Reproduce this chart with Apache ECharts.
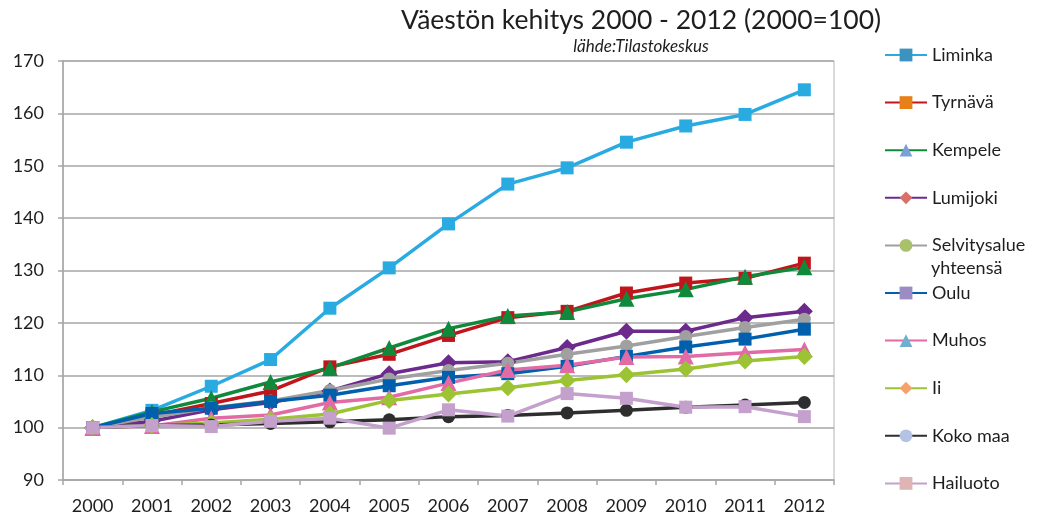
<!DOCTYPE html>
<html>
<head>
<meta charset="utf-8">
<script src="https://cdn.jsdelivr.net/npm/echarts@6/dist/echarts.min.js"></script>
<style>
  html, body { margin: 0; padding: 0; background: #fff; }
  #chart { width: 1039px; height: 523px; }
</style>
</head>
<body>
<div id="chart"></div>
<script>
const years = ['2000', '2001', '2002', '2003', '2004', '2005', '2006', '2007', '2008', '2009', '2010', '2011', '2012']

const liminka = [100, 103.3, 107.9, 113.0, 122.8, 130.5, 138.9, 146.5, 149.6, 154.5, 157.6, 159.8, 164.5]
const tyrnava = [100, 102.3, 104.6, 107.0, 111.6, 114.0, 117.6, 121.0, 122.2, 125.7, 127.6, 128.5, 131.4]
const kempele = [100, 103.0, 105.6, 108.7, 111.4, 115.2, 118.9, 121.3, 122.1, 124.6, 126.4, 128.8, 130.6]
const lumijoki = [100, 101.2, 103.4, 104.8, 107.0, 110.3, 112.4, 112.6, 115.3, 118.4, 118.4, 121.0, 122.2]
const selvitysalue = [100, 102.0, 103.8, 105.1, 107.1, 109.3, 110.9, 112.3, 114.0, 115.6, 117.4, 119.1, 120.7]
const oulu = [100, 102.7, 103.7, 105.0, 106.2, 108.0, 109.6, 110.3, 111.7, 113.6, 115.4, 116.9, 118.8]
const muhos = [100, 100.3, 101.8, 102.4, 104.8, 105.8, 108.5, 111.0, 111.9, 113.5, 113.6, 114.3, 114.9]
const ii = [100, 100.4, 100.9, 101.6, 102.6, 105.2, 106.4, 107.6, 109.0, 110.1, 111.2, 112.7, 113.6]
const kokoMaa = [100, 100.4, 100.5, 100.8, 101.1, 101.5, 102.1, 102.3, 102.8, 103.3, 103.9, 104.3, 104.8]
const hailuoto = [100, 100.4, 100.2, 101.2, 101.8, 99.9, 103.4, 102.2, 106.5, 105.6, 103.9, 104.0, 102.1]

const yTicks = { min: 90, max: 170, step: 10 }

const font = 'Lato, "Open Sans", sans-serif'
const textColor = '#1e1e1e'

// plot style + the (different) marker colours Excel shows in the legend
const seriesDefs = [
  { name: 'Liminka', data: liminka, color: '#29abe2', symbol: 'rect', legendColor: '#3a93c0' },
  { name: 'Tyrnävä', data: tyrnava, color: '#c0161b', symbol: 'rect', legendColor: '#e8801a' },
  { name: 'Kempele', data: kempele, color: '#0f8a3c', symbol: 'triangle', legendColor: '#7b9fd8' },
  { name: 'Lumijoki', data: lumijoki, color: '#6b2a8c', symbol: 'diamond', legendColor: '#d9706a' },
  { name: 'Selvitysalue yhteensä', data: selvitysalue, color: '#a0a0a0', symbol: 'circle', legendColor: '#a9c16b' },
  { name: 'Oulu', data: oulu, color: '#0060ae', symbol: 'rect', legendColor: '#9b8dc4' },
  { name: 'Muhos', data: muhos, color: '#e26aa5', symbol: 'triangle', legendColor: '#6fb0d0' },
  { name: 'Ii', data: ii, color: '#9cc334', symbol: 'diamond', legendColor: '#f5a36b' },
  { name: 'Koko maa', data: kokoMaa, color: '#2e2e2e', symbol: 'circle', legendColor: '#b4c3e3' },
  { name: 'Hailuoto', data: hailuoto, color: '#c4a0cc', symbol: 'rect', legendColor: '#e0b4b4' }
]

const sizeFor = { rect: 13, circle: 13, triangle: 16, diamond: 17 }

const chart = echarts.init(document.getElementById('chart'))

chart.setOption({
  animation: false,
  textStyle: { fontFamily: font },
  title: {
    text: 'Väestön kehitys 2000 - 2012 (2000=100)',
    subtext: 'lähde:Tilastokeskus',
    left: 636,
    top: 2,
    textAlign: 'center',
    itemGap: 4,
    textStyle: { fontSize: 26.5, fontWeight: 'normal', color: textColor, fontFamily: font },
    subtextStyle: { fontSize: 17, fontStyle: 'italic', color: textColor, fontFamily: font }
  },
  legend: {
    orient: 'vertical',
    left: 884,
    top: 45,
    padding: 0,
    itemWidth: 42,
    itemHeight: 16,
    itemGap: 27.6,
    textStyle: { fontSize: 18, color: textColor, lineHeight: 20 },
    formatter: name => (name === 'Selvitysalue yhteensä' ? 'Selvitysalue' : name),
    data: seriesDefs.map(s => ({ name: s.name, itemStyle: { color: s.legendColor } }))
  },
  graphic: [
    {
      type: 'text',
      left: 931,
      top: 259,
      style: { text: 'yhteensä', fontSize: 18, fill: textColor, fontFamily: font }
    }
  ],
  grid: {
    left: 63,
    right: 205,
    top: 61,
    bottom: 43,
    show: true,
    borderColor: '#b4b4b4',
    borderWidth: 1
  },
  xAxis: {
    type: 'category',
    data: years,
    boundaryGap: true,
    axisLine: { lineStyle: { color: '#a6a6a6', width: 1.5 } },
    axisTick: { show: true, length: 5, inside: false, lineStyle: { color: '#a6a6a6', width: 1.5 } },
    axisLabel: { fontSize: 18, color: textColor, margin: 17 }
  },
  yAxis: {
    type: 'value',
    min: yTicks.min,
    max: yTicks.max,
    interval: yTicks.step,
    axisLine: { show: true, lineStyle: { color: '#a6a6a6', width: 1.5 } },
    axisTick: { show: true, length: 5, lineStyle: { color: '#a6a6a6', width: 1.5 } },
    axisLabel: { fontSize: 18, color: textColor, margin: 19 },
    splitLine: { lineStyle: { color: '#a6a6a6', width: 1.5 } }
  },
  series: seriesDefs.map(s => ({
    name: s.name,
    type: 'line',
    data: s.data,
    symbol: s.symbol,
    symbolSize: sizeFor[s.symbol],
    showSymbol: true,
    lineStyle: { color: s.color, width: 3.5 },
    itemStyle: { color: s.color }
  }))
})
</script>
</body>
</html>
